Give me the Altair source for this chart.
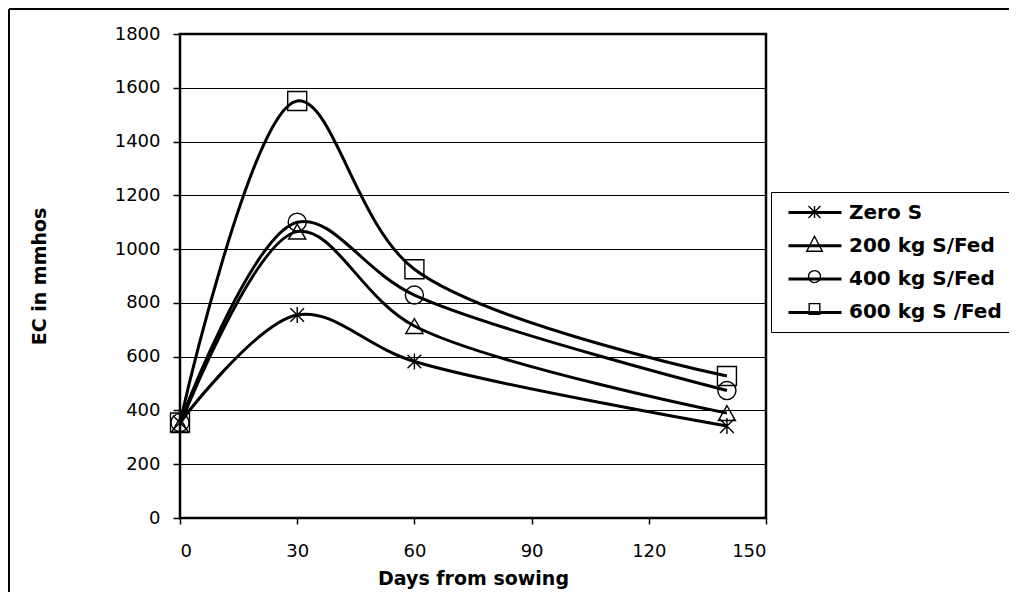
import altair as alt
import pandas as pd

# ---- data ----
days = [0, 30, 60, 140]
series_names = ["Zero S", "200 kg S/Fed", "400 kg S/Fed", "600 kg S /Fed"]
zero_s = [355, 755, 582, 342]
s200 = [345, 1065, 714, 390]
s400 = [355, 1100, 829, 474]
s600 = [355, 1551, 925, 528]
x_ticks = [0, 30, 60, 90, 120, 150]
y_ticks = [0, 200, 400, 600, 800, 1000, 1200, 1400, 1600, 1800]

rows = []
for name, vals in zip(series_names, [zero_s, s200, s400, s600]):
    for d, v in zip(days, vals):
        rows.append({"day": d, "ec": v, "series": name})
df = pd.DataFrame(rows)

# ---- marker shapes ----
ASTER = "M0,-1V1M-0.85,-0.85L0.85,0.85M-0.85,0.85L0.85,-0.85"
plot_shapes = [ASTER, "triangle-up", "circle", "square"]
plot_sizes = [260, 361, 227, 289]

# legend symbols: unit = 10 px (symbolSize 400); marker centre at x = 2.35
LEG_LINE = "M-0.3,0H5.0"
LEG_ASTER = "M2.35,-0.6V0.6M1.75,-0.6L2.95,0.6M1.75,0.6L2.95,-0.6"
LEG_TRI = "M2.35,-0.8L3.13,0.7L1.57,0.7Z"
LEG_CIRC = ("M2.95,0C2.95,0.331 2.681,0.6 2.35,0.6C2.019,0.6 1.75,0.331 1.75,0"
            "C1.75,-0.331 2.019,-0.6 2.35,-0.6C2.681,-0.6 2.95,-0.331 2.95,0Z")
LEG_SQ = "M1.82,-0.53H2.88V0.53H1.82Z"
legend_marks = [LEG_ASTER, LEG_TRI, LEG_CIRC, LEG_SQ]

FONT = "DejaVu Sans"

x_enc = alt.X(
    "day:Q",
    scale=alt.Scale(domain=[0, 150], nice=False, zero=False),
    axis=alt.Axis(values=x_ticks, title="Days from sowing", grid=False,
                  tickSize=6, labelPadding=18, titlePadding=9),
)
y_enc = alt.Y(
    "ec:Q",
    scale=alt.Scale(domain=[0, 1800], nice=False),
    axis=alt.Axis(values=y_ticks, format="d", title="EC in mmhos", grid=True,
                  gridColor="black", gridWidth=1.2, gridOpacity=1,
                  tickSize=7, labelPadding=13, titlePadding=65),
)

base = alt.Chart(df)

lines = base.mark_line(interpolate="catmull-rom", color="black", strokeWidth=3).encode(
    x=x_enc, y=y_enc, detail="series:N"
)

points = base.mark_point(filled=False, color="black", strokeWidth=1.4, opacity=1).encode(
    x=x_enc,
    y=y_enc,
    shape=alt.Shape("series:N", scale=alt.Scale(domain=series_names, range=plot_shapes), legend=None),
    size=alt.Size("series:N", scale=alt.Scale(domain=series_names, range=plot_sizes), legend=None),
)

common_legend = dict(
    orient="none", legendX=591, legendY=158, title=None,
    symbolSize=400, labelOffset=46, rowPadding=11.3, padding=9,
    symbolStrokeColor="black", symbolFillColor="transparent", symbolOpacity=1,
    labelFont=FONT, labelFontSize=20, labelFontWeight="bold", labelColor="black",
    labelLimit=400,
)

legend_line_layer = base.mark_point(filled=False, color="black", opacity=0).encode(
    x=x_enc,
    y=y_enc,
    shape=alt.Shape(
        "series:N",
        scale=alt.Scale(domain=series_names, range=[LEG_LINE] * 4),
        legend=alt.Legend(symbolStrokeWidth=3, strokeColor="black", **common_legend),
    ),
)

legend_mark_layer = base.mark_point(filled=False, color="black", opacity=0).encode(
    x=x_enc,
    y=y_enc,
    shape=alt.Shape(
        "series:N",
        scale=alt.Scale(domain=series_names, range=legend_marks),
        legend=alt.Legend(symbolStrokeWidth=1.4, labelOpacity=0, labelExpr="''", **common_legend),
    ),
)

frame_left = alt.Chart(alt.Data(values=[{"k": 1}])).mark_rule(color="black", strokeWidth=2).encode(
    x=alt.value(-171), y=alt.value(-25), y2=alt.value(620)
)
frame_top = alt.Chart(alt.Data(values=[{"k": 1}])).mark_rule(color="black", strokeWidth=2).encode(
    x=alt.value(-171), x2=alt.value(900), y=alt.value(-25)
)

chart = (
    alt.layer(lines, points, legend_line_layer, legend_mark_layer, frame_left, frame_top)
    .resolve_scale(shape="independent", size="independent")
    .properties(
        width=586, height=484,
        autosize=alt.AutoSizeParams(type="none"),
        padding={"left": 172, "top": 26, "right": 243, "bottom": 74},
        background="white",
    )
    .configure_view(stroke="black", strokeWidth=2.5)
    .configure_axis(
        domain=False, labelFont=FONT, labelFontSize=18, labelColor="black",
        titleFont=FONT, titleFontSize=19, titleFontWeight="bold", titleColor="black",
        tickColor="black", tickWidth=1.5,
    )
)

chart.save("out.html", embed_options={"renderer": "svg", "actions": False})
